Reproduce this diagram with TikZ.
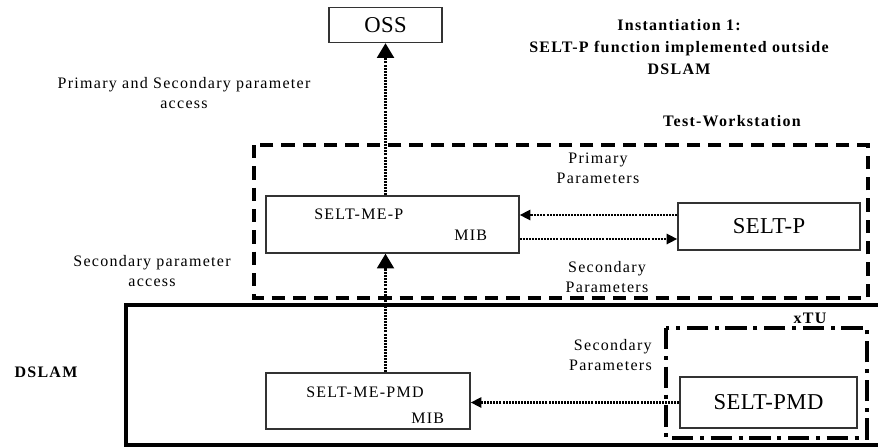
\documentclass[tikz,border=0pt]{standalone}
\usepackage{fontspec}
\setmainfont{Liberation Serif}[LetterSpace=8]
\newfontfamily\blockfont{Liberation Serif}[LetterSpace=2]
\usetikzlibrary{arrows.meta}
\begin{document}
\begin{tikzpicture}[x=0.75pt,y=-0.75pt,
  box/.style={draw=black!80,line width=1pt,fill=white,inner sep=0pt},
  bigbox/.style={box,font=\blockfont\fontsize{17}{20}\selectfont},
  lbl/.style={font=\fontsize{12}{15}\selectfont,align=center,inner sep=0pt},
  boldlbl/.style={font=\fontsize{12}{16.5}\selectfont\bfseries,align=center,inner sep=0pt},
  dotline/.style={line width=2.2pt,dash pattern=on 1.5pt off 0.8pt},
  bigtip/.style={-{Triangle[length=11pt,width=12.5pt]}},
  smalltip/.style={-{Triangle[length=8pt,width=7.5pt]}}]
\useasboundingbox (0,0) rectangle (878,447);

% enclosures
\draw[line width=2.6pt,dash pattern=on 10pt off 6pt] (254,145) rectangle (868,298);
\draw[line width=3pt] (920,305) -- (126,305) -- (126,445) -- (920,445);
\draw[line width=2.4pt,dash pattern=on 16pt off 5pt on 3pt off 5pt] (666,328) rectangle (867,438);

% blocks
\node[bigbox,minimum width=113*0.75pt,minimum height=35*0.75pt] (oss) at (385.5,25) {OSS};
\node[box,minimum width=253*0.75pt,minimum height=57*0.75pt] (mep) at (392.5,224.5) {};
\node[lbl,anchor=base west] (mepT) at (314,219) {SELT-ME-P};
\node[lbl,anchor=base west] (mepM) at (454,240) {MIB};
\node[bigbox,minimum width=182*0.75pt,minimum height=47*0.75pt] (seltp) at (769,226.5) {SELT-P};
\node[box,minimum width=204*0.75pt,minimum height=56*0.75pt] (mepmd) at (368,401) {};
\node[lbl,anchor=base west] (mepmdT) at (306,397) {SELT-ME-PMD};
\node[lbl,anchor=base west] (mepmdM) at (411,423) {MIB};
\node[bigbox,minimum width=177*0.75pt,minimum height=51*0.75pt] (seltpmd) at (768.5,402.5) {SELT-PMD};

% labels
\node[lbl] (l1) at (184,93) {Primary and Secondary parameter\\access};
\node[lbl] (l2) at (152,271) {Secondary parameter\\access};
\node[lbl] (l3) at (598,168) {Primary\\Parameters};
\node[lbl] (l4) at (607,277) {Secondary\\Parameters};
\node[lbl,align=right,anchor=east] (l5) at (652,355) {Secondary\\Parameters};
\node[boldlbl] (t1) at (679,47) {Instantiation 1:\\SELT-P function implemented outside\\DSLAM};
\node[boldlbl,anchor=base] (t2) at (732,126) {Test-Workstation};
\node[boldlbl,anchor=base] (t3) at (810,323) {xTU};
\node[boldlbl,anchor=base] (t4) at (46,377) {DSLAM};

% connectors
\draw[dotline,bigtip] (mep.north -| oss) -- (oss.south);
\draw[dotline,bigtip] (mepmd.north -| oss) -- (mep.south -| oss);
\draw[dotline,smalltip] (seltp.west |- 0,215) -- (mep.east |- 0,215);
\draw[dotline,smalltip] (mep.east |- 0,239) -- (seltp.west |- 0,239);
\draw[dotline,smalltip] (seltpmd.west) -- (mepmd.east |- seltpmd.west);
\end{tikzpicture}
\end{document}
